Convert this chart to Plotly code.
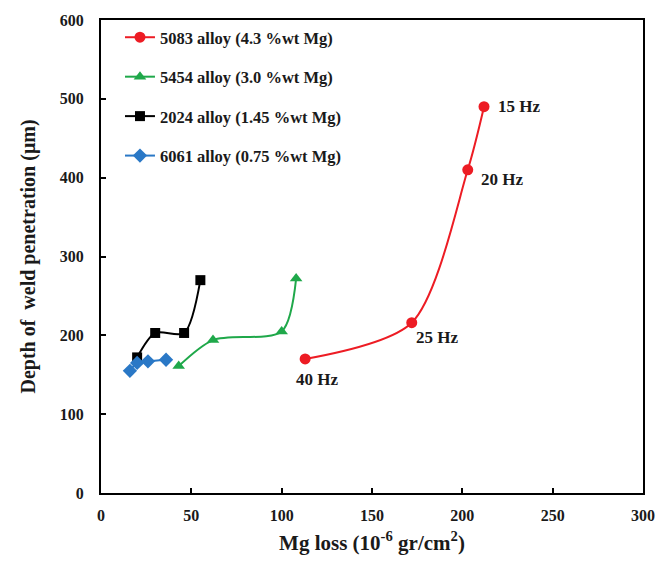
import plotly.graph_objects as go

# Mg loss (10^-6 gr/cm^2) and depth of weld penetration (um) for each alloy
mg_5083 = [113, 172, 203, 212]
depth_5083 = [170, 216, 410, 490]
freq_5083 = ["40 Hz", "25 Hz", "20 Hz", "15 Hz"]

mg_5454 = [43, 62, 100, 108]
depth_5454 = [161, 194, 205, 272]

mg_2024 = [20, 30, 46, 55]
depth_2024 = [172, 203, 203, 270]

mg_6061 = [16, 20, 26, 36]
depth_6061 = [155, 165, 167, 169]

x_ticks = [0, 50, 100, 150, 200, 250, 300]
y_ticks = [0, 100, 200, 300, 400, 500, 600]

FONT = "Liberation Serif"

series = [
    ("5083 alloy (4.3 %wt Mg)", mg_5083, depth_5083, "#ED1C24", "circle", 11),
    ("5454 alloy (3.0 %wt Mg)", mg_5454, depth_5454, "#1FA84A", "triangle-up", 11),
    ("2024 alloy (1.45 %wt Mg)", mg_2024, depth_2024, "#000000", "square", 10),
    ("6061 alloy (0.75 %wt Mg)", mg_6061, depth_6061, "#2A78C6", "diamond", 11),
]

fig = go.Figure()
for i, (name, xs, ys, color, symbol, size) in enumerate(series):
    fig.add_trace(go.Scatter(
        x=xs, y=ys, name=f"<b>{name}</b>", mode="lines+markers",
        line=dict(color=color, width=2, shape="spline", smoothing=0.8),
        marker=dict(color=color, symbol=symbol, size=size),
        legendgroup=f"g{i}",
    ))

# frequency labels next to the 5083 points: (x shift, y shift) in px
label_offsets = {"40 Hz": (-11, -21), "25 Hz": (2, -15), "20 Hz": (11, -10), "15 Hz": (12, 0)}
for xv, yv, txt in zip(mg_5083, depth_5083, freq_5083):
    dx, dy = label_offsets[txt]
    fig.add_annotation(
        x=xv, y=yv, text=f"<b>{txt}</b>", showarrow=False,
        xanchor="left", yanchor="middle", xshift=dx, yshift=dy,
        font=dict(family=FONT, size=17, color="#1a1a1a"),
    )

axis_common = dict(
    showline=True, linecolor="black", linewidth=2, mirror=True,
    ticks="inside", ticklen=5, tickwidth=2, tickcolor="black",
    showgrid=False, zeroline=False,
    tickfont=dict(family=FONT, size=16, color="#1a1a1a"),
)

fig.update_layout(
    width=667, height=563,
    margin=dict(l=101, r=15, t=15, b=70),
    paper_bgcolor="white", plot_bgcolor="white",
    font=dict(family=FONT, color="#1a1a1a"),
    xaxis=dict(
        range=[0, 300], tickvals=x_ticks,
        ticktext=[f"<b>{v}</b>" for v in x_ticks],
        ticklabelstandoff=7,
        title=dict(text="<b>Mg loss (10<sup>-6</sup> gr/cm<sup>2</sup>)</b>",
                   font=dict(family=FONT, size=21), standoff=12),
        **axis_common,
    ),
    yaxis=dict(
        range=[0, 600], tickvals=y_ticks,
        ticktext=[f"<b>{v}</b>" for v in y_ticks],
        ticklabelstandoff=12,
        title=dict(text="<b>Depth of  weld penetration (μm)</b>",
                   font=dict(family=FONT, size=20), standoff=19),
        **axis_common,
    ),
    legend=dict(
        x=0.035, y=1.0, xanchor="left", yanchor="top",
        bgcolor="rgba(0,0,0,0)", tracegroupgap=15,
        font=dict(family=FONT, size=16.5, color="#1a1a1a"),
        itemwidth=30,
    ),
)

fig.write_html("out.html")
